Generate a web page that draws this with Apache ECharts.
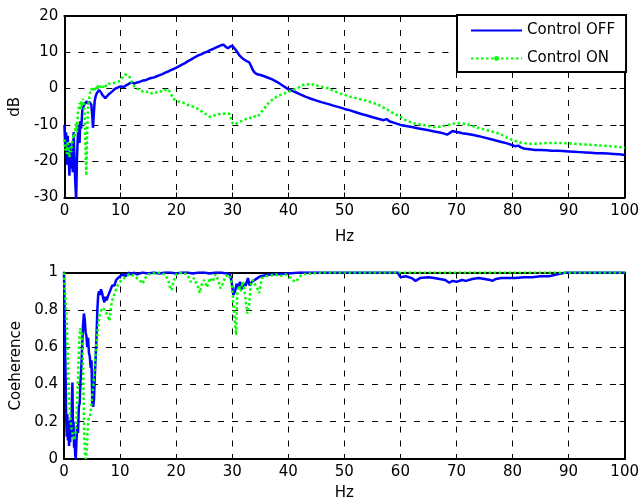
<!DOCTYPE html>
<html>
<head>
<meta charset="utf-8">
<script src="https://cdn.jsdelivr.net/npm/echarts@6/dist/echarts.min.js"></script>
<style>
  html, body { margin: 0; padding: 0; background: #fff; }
  #chart { width: 642px; height: 503px; }
</style>
</head>
<body>
<div id="chart"></div>
<script>
// Axis ticks
const hzTicks = [0, 10, 20, 30, 40, 50, 60, 70, 80, 90, 100];
const dbTicks = [-30, -20, -10, 0, 10, 20];
const cohTicks = [0, 0.2, 0.4, 0.6, 0.8, 1];
const seriesNames = ['Control OFF', 'Control ON'];

// Transfer function magnitude, [Hz, dB]
const offDb = [
  [0,-10],[0.15,-16],[0.3,-12],[0.45,-21],[0.6,-13],[0.75,-19],[0.9,-24],[1.05,-15],[1.2,-22],[1.35,-17],
  [1.5,-23],[1.65,-12],[1.8,-20],[1.95,-26],[2.1,-31],[2.25,-19],[2.4,-13],[2.55,-10],[2.7,-15],[2.85,-9],
  [3.0,-11],[3.2,-6],[3.4,-5],[3.6,-4.2],[3.8,-3.8],[4.0,-3.5],[4.2,-4.2],[4.4,-3.6],[4.6,-3.3],[4.8,-4.4],
  [5.0,-8],[5.1,-10.8],[5.25,-7],[5.4,-3.5],[5.6,-2],[5.8,-1.2],[6.0,-0.8],[6.2,-0.4],[6.4,-0.6],[6.6,-1.2],
  [6.8,-1.8],[7.0,-2.3],[7.3,-2.6],[7.6,-2.1],[7.9,-1.6],[8.2,-1.3],[8.6,-0.7],[9.0,-0.1],[9.4,0.2],[9.8,0.5],
  [10.2,0.6],[10.6,0.4],[11.0,0.9],[11.5,1.3],[12.0,1.8],[12.5,1.4],[13.0,1.7],[13.5,1.9],[14.0,2.2],[14.5,2.3],
  [15.0,2.7],[15.5,2.9],[16.0,3.1],[16.5,3.4],[17.0,3.7],[17.5,4.0],[18.0,4.4],[18.5,4.7],[19.0,5.1],[19.5,5.4],
  [20.0,5.8],[20.5,6.2],[21.0,6.6],[21.5,7.0],[22.0,7.5],[22.5,7.9],[23.0,8.4],[23.5,8.8],[24.0,9.2],[24.5,9.5],
  [25.0,9.9],[25.5,10.2],[26.0,10.6],[26.5,10.9],[27.0,11.3],[27.5,11.6],[28.0,12.0],[28.4,12.1],[28.8,11.5],[29.2,11.1],
  [29.6,11.6],[30.0,11.8],[30.4,11.0],[30.8,10.2],[31.2,9.2],[31.6,8.6],[32.0,8.1],[32.5,7.6],[33.0,7.2],[33.3,6.3],
  [33.6,5.2],[33.9,4.5],[34.3,4.0],[34.8,3.8],[35.3,3.6],[36.0,3.2],[37.0,2.6],[38.0,1.8],[39.0,0.8],[40.0,-0.2],
  [41.0,-0.8],[42.0,-1.5],[43.0,-2.2],[44.0,-2.8],[45.0,-3.3],[46.0,-3.8],[47.0,-4.2],[48.0,-4.7],[49.0,-5.1],[50.0,-5.6],
  [51.0,-6.0],[52.0,-6.5],[53.0,-7.0],[54.0,-7.4],[55.0,-7.9],[56.0,-8.3],[57.0,-8.7],[57.5,-8.4],[58.0,-9.0],[59.0,-9.5],
  [60.0,-10.0],[61.0,-10.3],[62.0,-10.6],[63.0,-10.9],[64.0,-11.2],[65.0,-11.5],[66.0,-11.8],[67.0,-12.1],[67.8,-12.4],[68.3,-12.7],
  [68.8,-12.2],[69.3,-11.7],[69.8,-11.9],[70.5,-12.1],[71.0,-12.3],[72.0,-12.5],[73.0,-12.8],[74.0,-13.1],[75.0,-13.5],[76.0,-13.9],
  [77.0,-14.3],[78.0,-14.7],[79.0,-15.1],[80.0,-15.6],[80.5,-15.9],[81.0,-15.7],[81.5,-16.2],[82.0,-16.5],[83.0,-16.7],[84.0,-16.9],
  [85.0,-16.9],[86.0,-17.0],[87.0,-17.1],[88.0,-17.1],[89.0,-17.2],[90.0,-17.3],[91.0,-17.4],[92.0,-17.5],[93.0,-17.6],[94.0,-17.7],
  [95.0,-17.8],[96.0,-17.8],[97.0,-17.9],[98.0,-18.0],[99.0,-18.1],[100.0,-18.3]
];
const onDb = [
  [0,-14],[0.15,-17],[0.3,-15.5],[0.45,-18],[0.6,-14.5],[0.75,-17],[0.9,-19],[1.05,-16],[1.2,-17.5],[1.35,-15],
  [1.5,-14],[1.65,-12.5],[1.8,-13.5],[1.95,-11],[2.1,-9.5],[2.25,-12],[2.4,-7],[2.55,-5.5],[2.7,-4],[2.85,-6],
  [3.0,-3.5],[3.15,-5],[3.3,-2.8],[3.45,-4.5],[3.6,-7],[3.75,-15],[3.9,-24],[4.05,-13],[4.2,-6],[4.35,-3.5],
  [4.5,-1.8],[4.65,-0.8],[4.8,0],[5.0,-0.8],[5.2,0.3],[5.4,-0.4],[5.6,0.6],[5.8,-0.3],[6.0,0.8],[6.3,0.2],
  [6.6,1.0],[6.9,0.4],[7.2,1.2],[7.5,0.6],[7.8,1.3],[8.1,0.8],[8.4,1.5],[8.7,1.0],[9.0,1.6],[9.3,1.3],
  [9.6,1.9],[9.9,2.1],[10.2,2.6],[10.5,3.3],[10.8,3.9],[11.1,4.3],[11.4,3.7],[11.7,3.0],[12.0,1.8],[12.3,1.0],
  [12.6,0.3],[13.0,0.0],[13.5,-0.5],[14.0,-0.8],[14.5,-1.0],[15.0,-0.8],[15.5,-1.3],[16.0,-1.0],[16.5,-1.1],[17.0,-0.7],
  [17.5,-0.9],[18.0,-0.4],[18.5,-0.2],[19.0,-1.2],[19.3,-2.6],[19.6,-3.0],[20.0,-3.4],[20.5,-3.6],[21.0,-3.8],[21.5,-4.0],
  [22.0,-4.5],[22.5,-4.7],[23.0,-5.0],[23.5,-5.3],[24.0,-5.8],[24.5,-6.3],[25.0,-6.8],[25.5,-7.2],[26.0,-7.8],[26.5,-7.6],
  [27.0,-7.2],[27.5,-7.0],[28.0,-7.1],[28.5,-6.9],[29.0,-6.8],[29.5,-7.0],[29.8,-8.6],[30.1,-9.8],[30.4,-10.2],[30.7,-9.6],
  [31.0,-9.9],[31.5,-9.0],[32.0,-8.7],[32.5,-8.3],[33.0,-8.0],[33.5,-8.2],[34.0,-7.6],[34.5,-7.7],[35.0,-6.8],[35.5,-5.8],
  [36.0,-4.8],[36.5,-3.8],[37.0,-3.2],[37.5,-2.6],[38.0,-2.2],[38.5,-1.8],[39.0,-1.5],[39.5,-1.2],[40.0,-0.9],[40.5,-0.5],
  [41.0,-0.2],[41.5,0.1],[42.0,0.5],[42.5,0.9],[43.0,1.3],[43.5,1.2],[44.0,1.0],[44.5,1.2],[45.0,0.9],[45.5,0.6],
  [46.0,0.5],[46.5,0.3],[47.0,0.1],[47.5,-0.3],[48.0,-0.6],[48.5,-0.9],[49.0,-1.2],[49.5,-1.5],[50.0,-1.7],[51.0,-2.2],
  [52.0,-2.6],[53.0,-3.0],[54.0,-3.4],[55.0,-3.9],[56.0,-4.4],[57.0,-5.3],[57.5,-5.6],[58.0,-6.2],[59.0,-7.0],[60.0,-7.8],
  [61.0,-8.8],[62.0,-9.4],[63.0,-9.8],[64.0,-10.0],[65.0,-10.3],[66.0,-10.6],[67.0,-10.5],[68.0,-10.2],[69.0,-9.8],[70.0,-9.5],
  [71.0,-9.6],[72.0,-9.9],[73.0,-10.4],[74.0,-10.9],[75.0,-11.3],[76.0,-11.7],[77.0,-12.1],[78.0,-12.7],[79.0,-13.5],[80.0,-14.2],
  [81.0,-14.7],[82.0,-15.0],[83.0,-15.2],[84.0,-15.2],[85.0,-15.1],[86.0,-15.0],[87.0,-15.0],[88.0,-15.0],[89.0,-15.0],[90.0,-15.1],
  [91.0,-15.2],[92.0,-15.3],[93.0,-15.4],[94.0,-15.5],[95.0,-15.6],[96.0,-15.7],[97.0,-15.8],[98.0,-15.9],[99.0,-16.1],[100.0,-16.3]
];

// Coherence, [Hz, value]
const offCoh = [
  [0,1.0],[0.1,0.8],[0.2,0.6],[0.3,0.42],[0.4,0.2],[0.5,0.12],[0.6,0.24],[0.7,0.1],[0.8,0.2],[0.9,0.07],
  [1.0,0.16],[1.1,0.09],[1.2,0.22],[1.3,0.12],[1.4,0.3],[1.5,0.41],[1.6,0.15],[1.7,0.2],[1.8,0.06],[1.9,0.12],
  [2.0,0.02],[2.1,0.0],[2.2,0.08],[2.35,0.18],[2.5,0.14],[2.65,0.28],[2.8,0.3],[2.95,0.42],[3.1,0.5],[3.25,0.62],
  [3.4,0.72],[3.55,0.78],[3.7,0.75],[3.85,0.68],[4.0,0.66],[4.15,0.6],[4.3,0.65],[4.45,0.57],[4.6,0.55],[4.75,0.49],
  [4.9,0.53],[5.05,0.3],[5.2,0.28],[5.35,0.32],[5.5,0.45],[5.65,0.55],[5.8,0.66],[5.95,0.8],[6.1,0.88],[6.25,0.9],
  [6.4,0.88],[6.6,0.91],[6.8,0.89],[7.0,0.86],[7.2,0.84],[7.4,0.87],[7.6,0.85],[7.8,0.87],[8.0,0.88],[8.2,0.9],
  [8.4,0.89],[8.6,0.93],[8.8,0.94],[9.0,0.93],[9.3,0.96],[9.6,0.97],[10.0,0.98],[10.5,0.99],[11.0,0.98],[11.5,1.0],
  [12.0,0.99],[12.5,1.0],[13.0,0.99],[14,1.0],[15,0.995],[16,1.0],[17,0.995],[18,1.0],[19,1.0],[20,0.995],
  [21,1.0],[22,1.0],[23,0.995],[24,1.0],[25,1.0],[26,0.995],[27,1.0],[28,1.0],[29,0.995],[29.6,0.99],
  [29.9,0.95],[30.2,0.88],[30.5,0.9],[30.8,0.94],[31.1,0.92],[31.4,0.95],[31.7,0.91],[32.0,0.94],[32.4,0.93],[32.8,0.97],
  [33.1,0.93],[33.5,0.95],[34.0,0.96],[34.5,0.97],[35.0,0.98],[36,0.985],[37,0.99],[38,0.99],[40,0.995],[42,1.0],
  [45,1.0],[50,1.0],[55,1.0],[58,1.0],[59.5,1.0],[60,0.975],[61,0.98],[62,0.97],[62.7,0.955],[63.5,0.97],
  [65,0.975],[66,0.97],[67,0.965],[68,0.96],[68.7,0.945],[69.3,0.955],[70,0.95],[71,0.96],[71.7,0.955],[72.8,0.965],
  [74,0.97],[75,0.965],[76,0.96],[76.4,0.955],[77,0.965],[78,0.97],[79,0.97],[80.5,0.97],[82,0.975],[83.5,0.975],
  [85,0.98],[86.5,0.98],[88,0.99],[89.5,1.0],[92,1.0],[95,1.0],[100,1.0]
];
const onCoh = [
  [0,1.0],[0.15,0.9],[0.3,0.84],[0.45,0.76],[0.6,0.62],[0.75,0.45],[0.9,0.32],[1.05,0.25],[1.2,0.2],[1.35,0.16],
  [1.5,0.14],[1.65,0.12],[1.8,0.1],[1.95,0.1],[2.1,0.15],[2.25,0.24],[2.4,0.35],[2.55,0.48],[2.7,0.62],[2.85,0.7],
  [3.0,0.71],[3.15,0.68],[3.3,0.6],[3.45,0.4],[3.6,0.15],[3.75,0.02],[3.9,0.0],[4.05,0.05],[4.2,0.15],[4.35,0.21],
  [4.5,0.22],[4.65,0.23],[4.8,0.27],[4.95,0.31],[5.1,0.36],[5.25,0.4],[5.4,0.46],[5.55,0.52],[5.7,0.59],[5.85,0.64],
  [6.0,0.69],[6.2,0.74],[6.4,0.78],[6.6,0.79],[6.8,0.81],[7.0,0.82],[7.3,0.8],[7.6,0.78],[7.9,0.76],[8.1,0.74],
  [8.3,0.79],[8.5,0.84],[8.8,0.87],[9.1,0.89],[9.4,0.92],[9.7,0.94],[10.0,0.95],[10.3,0.96],[10.7,0.97],[11.2,0.98],
  [11.6,0.99],[12.0,0.99],[12.5,0.98],[13.0,0.97],[13.5,0.96],[14.0,0.94],[14.5,0.97],[15.0,0.99],[16,0.995],[17,1.0],
  [18,0.99],[18.6,0.96],[18.9,0.92],[19.2,0.905],[19.5,0.95],[20,0.99],[21,1.0],[22,0.99],[22.6,0.95],[23.2,0.97],
  [23.8,0.93],[24.2,0.89],[24.6,0.94],[25,0.96],[25.5,0.92],[26,0.97],[26.5,0.95],[27,0.99],[27.5,0.96],[27.9,0.915],
  [28.3,0.94],[28.8,0.98],[29.3,0.99],[29.8,0.96],[30.1,0.88],[30.4,0.76],[30.7,0.665],[30.9,0.89],[31.2,0.93],[31.5,0.9],
  [31.9,0.95],[32.3,0.88],[32.7,0.78],[33.0,0.82],[33.3,0.93],[33.6,0.96],[34.0,0.94],[34.4,0.92],[34.8,0.89],[35.3,0.97],
  [36,0.98],[37,0.985],[37.8,0.99],[38.5,0.98],[39.5,0.99],[40.5,0.97],[41.0,0.955],[41.4,0.95],[41.8,0.97],[42.5,0.99],
  [44,0.995],[46,1.0],[50,1.0],[55,1.0],[60,1.0],[65,1.0],[70,1.0],[75,1.0],[80,1.0],[85,1.0],
  [90,1.0],[95,1.0],[100,1.0]
];

const FONT = 'DejaVu Sans';
const TICK_FONT = 15;
const NAME_FONT = 15;
const GRID_DASH = [6, 8];

const step = t => t[1] - t[0];
const fmt = v => String(+v.toFixed(2));

// Primary axis (with labels and grid) and a mirrored one for the opposite side of the box
function primaryX(gridIndex, nameGap) {
  return {
    type: 'value', gridIndex, position: 'bottom',
    min: hzTicks[0], max: hzTicks[hzTicks.length - 1], interval: step(hzTicks),
    name: 'Hz', nameLocation: 'middle', nameGap,
    nameTextStyle: { fontFamily: FONT, fontSize: NAME_FONT, color: '#000' },
    axisLine: { show: true, onZero: false, lineStyle: { color: '#000', width: 2 } },
    axisTick: { show: true, inside: true, length: 5, lineStyle: { color: '#000', width: 1 } },
    axisLabel: { fontFamily: FONT, fontSize: TICK_FONT, color: '#000', margin: 6, formatter: fmt },
    splitLine: { show: true, lineStyle: { color: '#000', width: 1, type: GRID_DASH } }
  };
}
function mirrorX(gridIndex) {
  return {
    type: 'value', gridIndex, position: 'top',
    min: hzTicks[0], max: hzTicks[hzTicks.length - 1], interval: step(hzTicks),
    axisLine: { show: true, onZero: false, lineStyle: { color: '#000', width: 2 } },
    axisTick: { show: true, inside: true, length: 5, lineStyle: { color: '#000', width: 1 } },
    axisLabel: { show: false }, splitLine: { show: false }
  };
}
function primaryY(gridIndex, ticks, name, nameGap) {
  return {
    type: 'value', gridIndex, position: 'left',
    min: ticks[0], max: ticks[ticks.length - 1], interval: step(ticks),
    name, nameLocation: 'middle', nameGap, nameRotate: 90,
    nameTextStyle: { fontFamily: FONT, fontSize: NAME_FONT, color: '#000' },
    axisLine: { show: true, onZero: false, lineStyle: { color: '#000', width: 2 } },
    axisTick: { show: true, inside: true, length: 5, lineStyle: { color: '#000', width: 1 } },
    axisLabel: { fontFamily: FONT, fontSize: TICK_FONT, color: '#000', margin: 6, formatter: fmt },
    splitLine: { show: true, lineStyle: { color: '#000', width: 1, type: GRID_DASH } }
  };
}
function mirrorY(gridIndex, ticks) {
  return {
    type: 'value', gridIndex, position: 'right',
    min: ticks[0], max: ticks[ticks.length - 1], interval: step(ticks),
    axisLine: { show: true, onZero: false, lineStyle: { color: '#000', width: 2 } },
    axisTick: { show: true, inside: true, length: 5, lineStyle: { color: '#000', width: 1 } },
    axisLabel: { show: false }, splitLine: { show: false }
  };
}

const offStyle = { color: '#0000ff', width: 2.5 };
const onStyle = { color: '#00ff00', width: 2.5, type: [2.5, 2.5] };

function lineSeries(name, data, xi, yi, style) {
  return {
    name, type: 'line', xAxisIndex: xi, yAxisIndex: yi, data,
    symbol: 'circle', symbolSize: 5, showSymbol: false,
    itemStyle: { color: style.color },
    lineStyle: style, animation: false, silent: true, clip: true
  };
}

const chart = echarts.init(document.getElementById('chart'), null, { renderer: 'canvas' });
chart.setOption({
  backgroundColor: '#fff',
  animation: false,
  grid: [
    { left: 64, right: 16, top: 16, height: 181.5 },
    { left: 64, right: 16, top: 272.5, height: 186.5 }
  ],
  xAxis: [primaryX(0, 32), mirrorX(0), primaryX(1, 27), mirrorX(1)],
  yAxis: [
    primaryY(0, dbTicks, 'dB', 40), mirrorY(0, dbTicks),
    primaryY(1, cohTicks, 'Coeherence', 33), mirrorY(1, cohTicks)
  ],
  legend: {
    // the solid line carries no marker; the dotted one shows a small dot
    data: [
      { name: seriesNames[0], itemStyle: { opacity: 0 } },
      { name: seriesNames[1] }
    ],
    orient: 'vertical',
    left: 457, top: 15,
    padding: [7, 11, 5, 13],
    itemGap: 11, itemWidth: 51, itemHeight: 6,
    backgroundColor: '#fff', borderColor: '#000', borderWidth: 2, borderRadius: 0,
    textStyle: { fontFamily: FONT, fontSize: NAME_FONT, color: '#000', lineHeight: 17 },
    selectedMode: false
  },
  series: [
    lineSeries(seriesNames[0], offDb, 0, 0, offStyle),
    lineSeries(seriesNames[1], onDb, 0, 0, onStyle),
    lineSeries(seriesNames[0], offCoh, 2, 2, offStyle),
    lineSeries(seriesNames[1], onCoh, 2, 2, onStyle)
  ]
});
</script>
</body>
</html>
